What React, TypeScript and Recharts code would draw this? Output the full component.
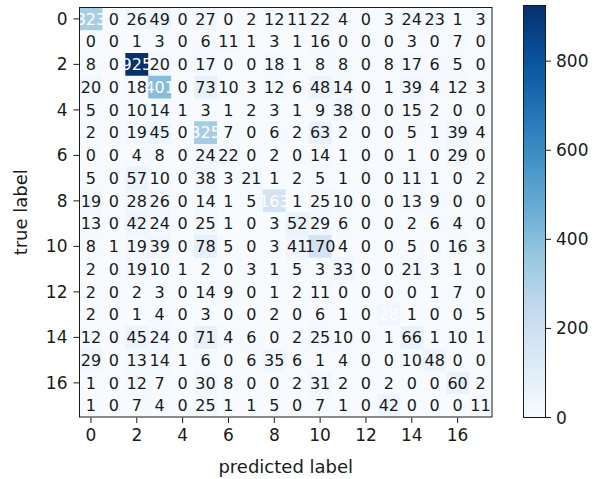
import React from 'react';
import { ScatterChart, Scatter, XAxis, YAxis, BarChart, Bar, Label } from 'recharts';

const categories = [0, 1, 2, 3, 4, 5, 6, 7, 8, 9, 10, 11, 12, 13, 14, 15, 16, 17];
const row0 = [323, 0, 26, 49, 0, 27, 0, 2, 12, 11, 22, 4, 0, 3, 24, 23, 1, 3];
const row1 = [0, 0, 1, 3, 0, 6, 11, 1, 3, 1, 16, 0, 0, 0, 3, 0, 7, 0];
const row2 = [8, 0, 925, 20, 0, 17, 0, 0, 18, 1, 8, 8, 0, 8, 17, 6, 5, 0];
const row3 = [20, 0, 18, 401, 0, 73, 10, 3, 12, 6, 48, 14, 0, 1, 39, 4, 12, 3];
const row4 = [5, 0, 10, 14, 1, 3, 1, 2, 3, 1, 9, 38, 0, 0, 15, 2, 0, 0];
const row5 = [2, 0, 19, 45, 0, 325, 7, 0, 6, 2, 63, 2, 0, 0, 5, 1, 39, 4];
const row6 = [0, 0, 4, 8, 0, 24, 22, 0, 2, 0, 14, 1, 0, 0, 1, 0, 29, 0];
const row7 = [5, 0, 57, 10, 0, 38, 3, 21, 1, 2, 5, 1, 0, 0, 11, 1, 0, 2];
const row8 = [19, 0, 28, 26, 0, 14, 1, 5, 163, 1, 25, 10, 0, 0, 13, 9, 0, 0];
const row9 = [13, 0, 42, 24, 0, 25, 1, 0, 3, 52, 29, 6, 0, 0, 2, 6, 4, 0];
const row10 = [8, 1, 19, 39, 0, 78, 5, 0, 3, 41, 170, 4, 0, 0, 5, 0, 16, 3];
const row11 = [2, 0, 19, 10, 1, 2, 0, 3, 1, 5, 3, 33, 0, 0, 21, 3, 1, 0];
const row12 = [2, 0, 2, 3, 0, 14, 9, 0, 1, 2, 11, 0, 0, 0, 0, 1, 7, 0];
const row13 = [2, 0, 1, 4, 0, 3, 0, 0, 2, 0, 6, 1, 0, 28, 1, 0, 0, 5];
const row14 = [12, 0, 45, 24, 0, 71, 4, 6, 0, 2, 25, 10, 0, 1, 66, 1, 10, 1];
const row15 = [29, 0, 13, 14, 1, 6, 0, 6, 35, 6, 1, 4, 0, 0, 10, 48, 0, 0];
const row16 = [1, 0, 12, 7, 0, 30, 8, 0, 0, 2, 31, 2, 0, 2, 0, 0, 60, 2];
const row17 = [1, 0, 7, 4, 0, 25, 1, 1, 5, 0, 7, 1, 0, 42, 0, 0, 0, 11];
const rows = [row0, row1, row2, row3, row4, row5, row6, row7, row8, row9, row10, row11, row12, row13, row14, row15, row16, row17];
const axisTicks = [0, 2, 4, 6, 8, 10, 12, 14, 16];
const colorbarTicks = [0, 200, 400, 600, 800];
const blues = ['#f7fbff', '#deebf7', '#c6dbef', '#9ecae1', '#6baed6', '#4292c6', '#2171b5', '#08519c', '#08306b'];

const colorMax = Math.max(...rows.map((r) => Math.max(...r)));

const FONT = 'DejaVu Sans';
const TXT = '#1a1a1a';
const CHART_W = 500;
const CHART_H = 479;
const M_TOP = 7.5;
const Y_W = 79.5;
const M_RIGHT = 8;
const X_H = 62;
const plotW = CHART_W - Y_W - M_RIGHT;
const plotH = CHART_H - M_TOP - X_H;
const cellW = plotW / categories.length;
const cellH = plotH / categories.length;
const mid = (categories.length - 1) / 2;

function hexToRgb(h: string) {
  return [parseInt(h.slice(1, 3), 16), parseInt(h.slice(3, 5), 16), parseInt(h.slice(5, 7), 16)];
}
function colorFor(v: number) {
  const t = Math.max(0, Math.min(1, v / colorMax)) * (blues.length - 1);
  const i = Math.min(blues.length - 2, Math.floor(t));
  const f = t - i;
  const a = hexToRgb(blues[i]);
  const b = hexToRgb(blues[i + 1]);
  const c = a.map((x, k) => Math.round(x + (b[k] - x) * f));
  return `rgb(${c[0]},${c[1]},${c[2]})`;
}

const cells = rows.flatMap((r, i) => {
  const sum = r.reduce((s, x) => s + x, 0);
  return r.map((v, j) => ({ x: categories[j], y: categories[i], v, white: v > sum * 0.5 }));
});
const frameData = [{ x: mid, y: mid }];

const CellRect = (p: any) => (
  <rect x={p.cx - cellW / 2} y={p.cy - cellH / 2} width={cellW + 0.6} height={cellH + 0.6} fill={colorFor(p.payload.v)} />
);
const CellText = (p: any) => (
  <text x={p.cx} y={p.cy} dy="0.36em" textAnchor="middle" fontFamily={FONT} fontSize={16} fill={p.payload.white ? '#fff' : TXT}>
    {p.payload.v}
  </text>
);
const Frame = (p: any) => (
  <rect x={p.cx - plotW / 2} y={p.cy - plotH / 2} width={plotW} height={plotH} fill="none" stroke={TXT} strokeWidth={1} />
);

const ColorbarShape = (p: any) => (
  <g>
    <defs>
      <linearGradient id="bluesGrad" x1="0" y1="1" x2="0" y2="0">
        {blues.map((c, i) => (
          <stop key={i} offset={`${(i / (blues.length - 1)) * 100}%`} stopColor={c} />
        ))}
      </linearGradient>
    </defs>
    <rect x={p.x} y={p.y} width={p.width} height={p.height} fill="url(#bluesGrad)" stroke={TXT} strokeWidth={1} />
  </g>
);

const tickStyle = { fill: TXT, fontSize: 17, fontFamily: FONT };

export default function App() {
  return (
    <div style={{ position: 'absolute', left: 0, top: 0, width: 603, height: 479, background: '#fff' }}>
      <div style={{ position: 'absolute', left: 0, top: 0 }}>
        <ScatterChart width={CHART_W} height={CHART_H} margin={{ top: M_TOP, right: M_RIGHT, bottom: 0, left: 0 }}>
          <XAxis
            type="number"
            dataKey="x"
            domain={[-0.5, 17.5]}
            ticks={axisTicks}
            interval={0}
            height={X_H}
            axisLine={false}
            tickSize={6}
            tickMargin={6}
            tick={tickStyle}
            tickLine={{ stroke: TXT }}
          >
            <Label
              content={(p: any) => {
                const vb = p.viewBox;
                return (
                  <text x={vb.x + vb.width / 2} y={vb.y + 56} textAnchor="middle" fontFamily={FONT} fontSize={18} fill={TXT}>
                    predicted label
                  </text>
                );
              }}
            />
          </XAxis>
          <YAxis
            type="number"
            dataKey="y"
            domain={[-0.5, 17.5]}
            reversed
            ticks={axisTicks}
            interval={0}
            width={Y_W}
            axisLine={false}
            tickSize={6}
            tickMargin={6}
            tick={tickStyle}
            tickLine={{ stroke: TXT }}
          >
            <Label
              content={(p: any) => {
                const vb = p.viewBox;
                const lx = vb.x + 27;
                const ly = vb.y + vb.height / 2;
                return (
                  <text x={lx} y={ly} transform={`rotate(-90 ${lx} ${ly})`} textAnchor="middle" fontFamily={FONT} fontSize={18} fill={TXT}>
                    true label
                  </text>
                );
              }}
            />
          </YAxis>
          <Scatter data={cells} shape={CellRect} isAnimationActive={false} />
          <Scatter data={cells} shape={CellText} isAnimationActive={false} />
          <Scatter data={frameData} shape={Frame} isAnimationActive={false} />
        </ScatterChart>
      </div>
      <div style={{ position: 'absolute', left: CHART_W, top: 0 }}>
        <BarChart
          width={103}
          height={479}
          data={[{ name: 'scale', v: colorMax }]}
          margin={{ top: 5.5, right: 0, bottom: 61.5, left: 23.5 }}
          barCategoryGap={0}
        >
          <XAxis dataKey="name" hide />
          <YAxis
            orientation="right"
            type="number"
            domain={[0, colorMax]}
            ticks={colorbarTicks}
            interval={0}
            width={58}
            axisLine={false}
            tickSize={6}
            tickMargin={5}
            tick={tickStyle}
            tickLine={{ stroke: TXT }}
          />
          <Bar dataKey="v" shape={ColorbarShape} isAnimationActive={false} />
        </BarChart>
      </div>
    </div>
  );
}
